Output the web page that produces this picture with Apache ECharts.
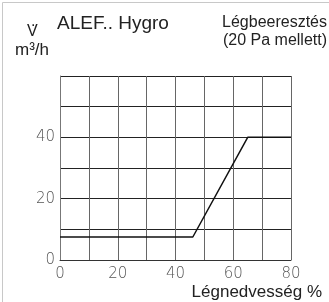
<!DOCTYPE html>
<html>
<head>
<meta charset="utf-8">
<script src="https://cdn.jsdelivr.net/npm/echarts@6/dist/echarts.min.js"></script>
<style>
  html, body { margin: 0; padding: 0; background: #fff; }
  #chart { width: 329px; height: 302px; }
</style>
</head>
<body>
<div id="chart"></div>
<script>
  // humidity (%) -> air flow (m3/h)
  var humidity = [0, 46, 65, 80];
  var flow = [7.5, 7.5, 40, 40];
  var xTicks = [0, 20, 40, 60, 80];
  var yTicks = [0, 20, 40];

  var chart = echarts.init(document.getElementById('chart'));
  var pts = [];
  for (var i = 0; i < humidity.length; i++) {
    pts.push([humidity[i], flow[i]]);
  }
  var numFont = 'DejaVu Sans';

  chart.setOption({
    backgroundColor: '#fff',
    animation: false,
    grid: { left: 60, right: 38, top: 76, bottom: 42 },
    graphic: [
      { type: 'line', shape: { x1: 2.5, y1: 2.5, x2: 329, y2: 2.5 }, style: { stroke: '#c8c8c8', lineWidth: 1 } },
      { type: 'line', shape: { x1: 2.5, y1: 2.5, x2: 2.5, y2: 302 }, style: { stroke: '#c8c8c8', lineWidth: 1 } },
      { type: 'text', left: 27, top: 24, style: { text: 'V', font: '16px Liberation Sans', fill: '#222' } },
      { type: 'text', left: 31, top: 14, style: { text: '.', font: '16px Liberation Sans', fill: '#222' } },
      { type: 'text', left: 15, top: 42, style: { text: 'm\u00b3/h', font: '17px Liberation Sans', fill: '#222' } },
      { type: 'text', left: 57, top: 14, style: { text: 'ALEF.. Hygro', font: '19px Liberation Sans', fill: '#222' } },
      { type: 'text', right: 2, top: 15, style: { text: 'Légbeeresztés', font: '16px Liberation Sans', fill: '#222', align: 'right' } },
      { type: 'text', right: 2, top: 33, style: { text: '(20 Pa mellett)', font: '16px Liberation Sans', fill: '#222', align: 'right' } },
      { type: 'text', right: 7, top: 284, style: { text: 'Légnedvesség %', font: '17px Liberation Sans', fill: '#222', align: 'right' } }
    ],
    xAxis: {
      type: 'value',
      min: 0, max: 80, interval: 10,
      axisLine: { show: true, lineStyle: { color: '#333', width: 1 } },
      axisTick: { show: false },
      axisLabel: {
        margin: 7,
        color: '#555', fontFamily: numFont, fontWeight: 200, fontSize: 15,
        formatter: function (v) { return xTicks.indexOf(v) >= 0 ? String(v) : ''; }
      },
      splitLine: { show: true, lineStyle: { color: '#666', width: 1 } }
    },
    yAxis: {
      type: 'value',
      min: 0, max: 60, interval: 10,
      axisLine: { show: true, lineStyle: { color: '#777', width: 1 } },
      axisTick: { show: false },
      axisLabel: {
        margin: 5,
        color: '#555', fontFamily: numFont, fontWeight: 200, fontSize: 15,
        formatter: function (v) { return yTicks.indexOf(v) >= 0 ? String(v) : ''; }
      },
      splitLine: { show: true, lineStyle: { color: '#222', width: 1 } }
    },
    series: [{
      type: 'line',
      data: pts,
      symbol: 'none',
      lineStyle: { color: '#111', width: 1.5 }
    }]
  });
</script>
</body>
</html>
